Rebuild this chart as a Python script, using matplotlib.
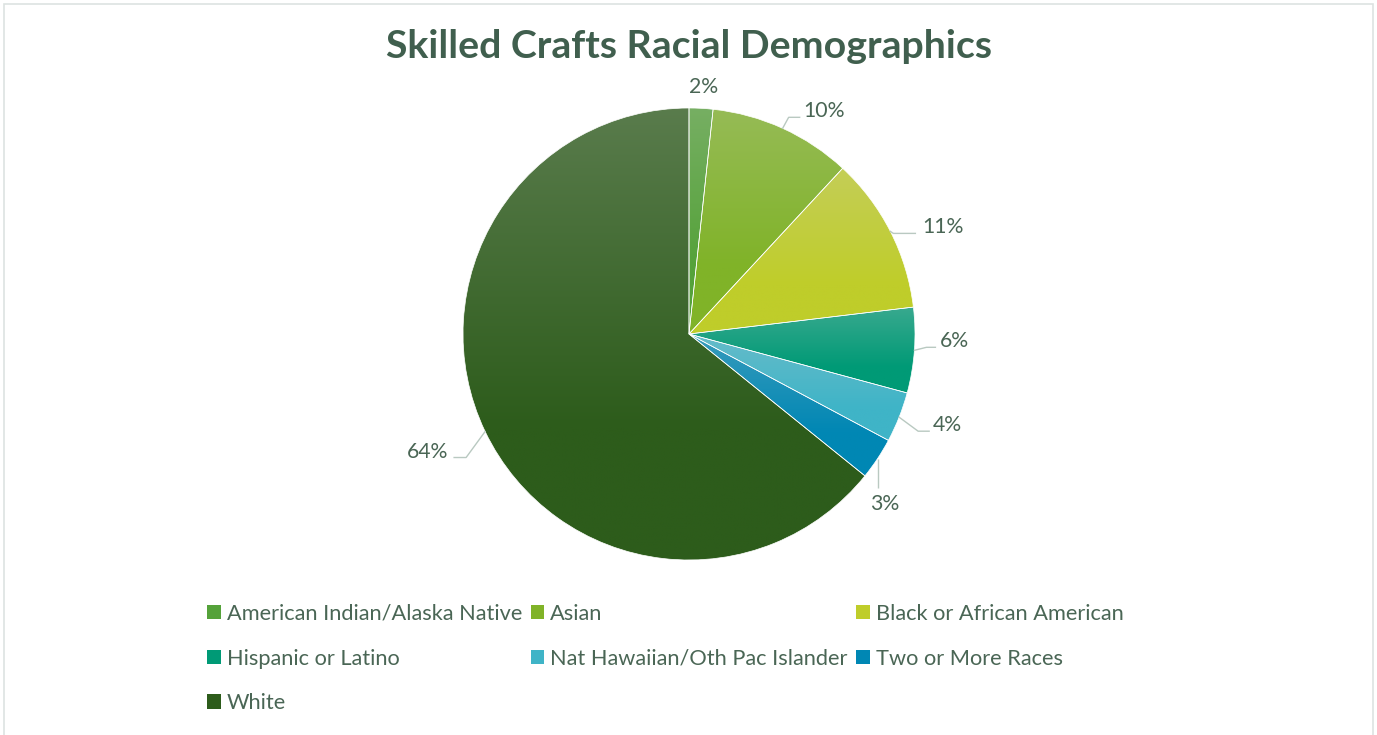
import numpy as np
import matplotlib
matplotlib.use("Agg")
import matplotlib.pyplot as plt
from matplotlib.patches import Patch, Rectangle
from matplotlib.colors import to_rgb

# ---------------- data ----------------
categories = ["American Indian/Alaska Native", "Asian", "Black or African American",
              "Hispanic or Latino", "Nat Hawaiian/Oth Pac Islander", "Two or More Races", "White"]
shares = [1.7, 10.2, 11.2, 6.1, 3.6, 3.0, 64.2]
title = "Skilled Crafts Racial Demographics"

# ---------------- style ----------------
colors = ["#55a23a", "#80b328", "#bfcd2a", "#009a76", "#3fb4c7", "#0087b4", "#2d5c1b"]
W, H, DPI = 1377, 735, 100
CX, CY, R = 689, 334, 226          # pie centre / radius in pixels
text_col = "#4a6655"
title_col = "#405f4e"
line_col = "#b9c9c1"
FONT = "Lato"

# label leader styles (pixel offsets): kind, elbow offset, horizontal length, gap
label_style = [
    ("none", (2, -15), 0, 0),
    ("elbow", (6, -11), 11, 4),
    ("elbow", (3, 2), 22, 7),
    ("elbow", (12, -3), 9, 4),
    ("elbow", (19, 14), 11, 4),
    ("down", (0, 29), 0, 6),
    ("elbow", (-19, 26), 12, 6),
]

fig = plt.figure(figsize=(W / DPI, H / DPI), dpi=DPI)
fig.patch.set_facecolor("white")
ax = fig.add_axes([0, 0, 1, 1])

wedges, _ = ax.pie(shares, colors=colors, startangle=90, counterclock=False,
                   radius=1.0, center=(0, 0),
                   wedgeprops=dict(edgecolor="white", linewidth=0.5))

tint = np.array([0.82, 0.82, 0.82])
for w, c in zip(wedges, colors):
    base = np.array(to_rgb(c))
    top = base * 0.73 + tint * 0.27
    verts = w.get_patch_transform().transform(w.get_path().vertices)
    x0, x1 = verts[:, 0].min(), verts[:, 0].max()
    y0, y1 = verts[:, 1].min(), verts[:, 1].max()
    n = 256
    t = np.clip(np.linspace(0, 1, n) / 0.7, 0, 1)[:, None]
    grad = top[None, :] * (1 - t) + base[None, :] * t
    img = np.repeat(grad[:, None, :], 2, axis=1)
    im = ax.imshow(img, extent=(x0, x1, y0, y1), origin="upper", aspect="auto",
                   interpolation="bilinear", zorder=1)
    im.set_clip_path(w)
    w.set_facecolor("none")
    w.set_zorder(2)

ax.set_xlim(-CX / R, (W - CX) / R)
ax.set_ylim(-(H - CY) / R, CY / R)
ax.set_aspect("equal", adjustable="box")
ax.axis("off")

# data labels
for w, v, (kind, (ex, ey), hl, gap) in zip(wedges, shares, label_style):
    mid = np.deg2rad((w.theta1 + w.theta2) / 2)
    px, py = np.cos(mid), np.sin(mid)
    lab = f"{round(v):d}%"
    kw = dict(fontsize=15.3, color=text_col, family=FONT, zorder=5)
    if kind == "none":
        ax.text(px + ex / R, py - ey / R, lab, ha="center", va="baseline", **kw)
    elif kind == "down":
        ey_ = py - ey / R
        ax.plot([px, px], [py, ey_], color=line_col, lw=1.0, zorder=4,
                solid_capstyle="butt")
        ax.text(px + 7 / R, ey_ - gap / R, lab, ha="center", va="top", **kw)
    else:
        qx, qy = px + ex / R, py - ey / R
        sgn = 1 if px >= 0 else -1
        rx = qx + sgn * hl / R
        ax.plot([px, qx, rx], [py, qy, qy], color=line_col, lw=1.0, zorder=4,
                solid_joinstyle="round")
        ax.text(rx + sgn * gap / R, qy, lab, ha="left" if sgn > 0 else "right",
                va="baseline", **kw)

# title
fig.text(CX / W, 1 - 58 / H, title, ha="center", va="baseline", fontsize=28.3,
         fontweight="bold", color=title_col, family=FONT)

# legend (row-major order as in reference)
order = [0, 3, 6, 1, 4, 2, 5]
handles = [Patch(facecolor=colors[i], edgecolor="none", label=categories[i]) for i in order]
fig.legend(handles=handles, loc="upper left", bbox_to_anchor=(207 / W, 1 - 604 / H),
           ncol=3, frameon=False, borderpad=0, borderaxespad=0,
           handlelength=0.63, handleheight=0.63, handletextpad=0.27,
           columnspacing=0.4, labelspacing=1.13,
           prop=dict(family=FONT, size=15.7), labelcolor=text_col)

# chart border
fig.patches.append(Rectangle((4 / W, -0.05), (1373 - 4) / W, 1.05 - 4 / H,
                             transform=fig.transFigure, fill=False,
                             edgecolor="#dde3e1", linewidth=1.2))

fig.savefig("out.png", dpi=DPI, facecolor="white")
